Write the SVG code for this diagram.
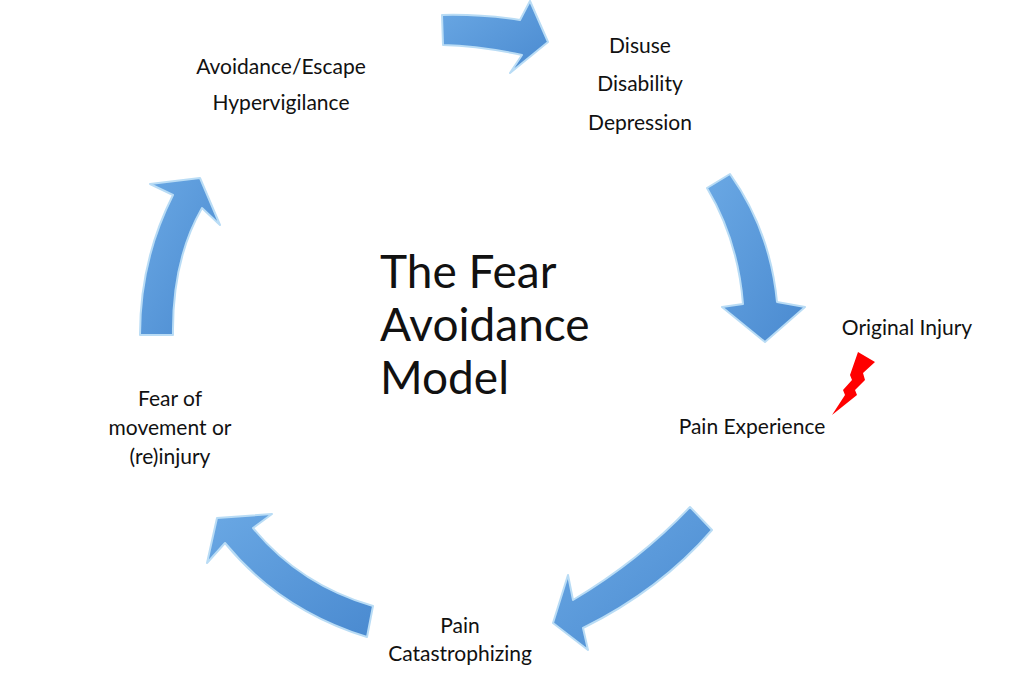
<svg xmlns="http://www.w3.org/2000/svg" width="1024" height="683" viewBox="0 0 1024 683">
<defs>
<linearGradient id="g" x1="0" y1="0" x2="1" y2="1"><stop offset="0" stop-color="#6aa8e4"/><stop offset="1" stop-color="#4a8ad0"/></linearGradient>
<style>
.arr{fill:url(#g);stroke:#b9dcf5;stroke-width:2;stroke-linejoin:round}
.t{font-family:Lato,"Open Sans",sans-serif;font-size:21px;fill:#111;text-anchor:middle}
.title{font-family:Lato,"Open Sans",sans-serif;font-size:46px;fill:#111}
</style>
</defs>
<rect width="1024" height="683" fill="#fff"/>
<g id="connectors">
<path class="arr" d="M442,15 Q480,14 520,20 L530,1 L548,42 L510,73 L522,55 Q480,46 443,45 Z"/>
<path class="arr" d="M707,188 L730,174 Q770,230 777,302 L805,307 L765,342 L722,307 L743,304 Q738,240 707,188 Z"/>
<path class="arr" d="M690,507 L712,530 Q660,590 583,628 L588,650 L553,623 L568,575 L573,600 Q640,560 690,507 Z"/>
<path class="arr" d="M373,606 L367,637 Q280,610 225,543 L207,563 L217,518 L272,514 L253,528 Q300,585 373,606 Z"/>
<path class="arr" d="M140,335 L173,335 Q172,260 202,208 L220,225 L200,178 L150,184 L173,195 Q140,260 140,335 Z"/>
</g>
<g id="bolt"><polygon fill="#f00" points="858,352 875,362 863,373 865,380 855,390 857,395 832,415 845,395 843,390 852,380 850,375"/></g>
<g id="title"><text class="title" x="380" y="288">The Fear</text><text class="title" x="380" y="341">Avoidance</text><text class="title" x="380" y="394">Model</text></g>
<g id="n1"><text class="t" x="281" y="74">Avoidance/Escape</text><text class="t" x="281" y="110">Hypervigilance</text></g>
<g id="n2"><text class="t" x="640" y="53">Disuse</text><text class="t" x="640" y="91">Disability</text><text class="t" x="640" y="130">Depression</text></g>
<g id="n3"><text class="t" x="907" y="335">Original Injury</text></g>
<g id="n4"><text class="t" x="752" y="434">Pain Experience</text></g>
<g id="n5"><text class="t" x="460" y="633">Pain</text><text class="t" x="460" y="661">Catastrophizing</text></g>
<g id="n6"><text class="t" x="170" y="406">Fear of</text><text class="t" x="170" y="435">movement or</text><text class="t" x="170" y="464">(re)injury</text></g>
</svg>
